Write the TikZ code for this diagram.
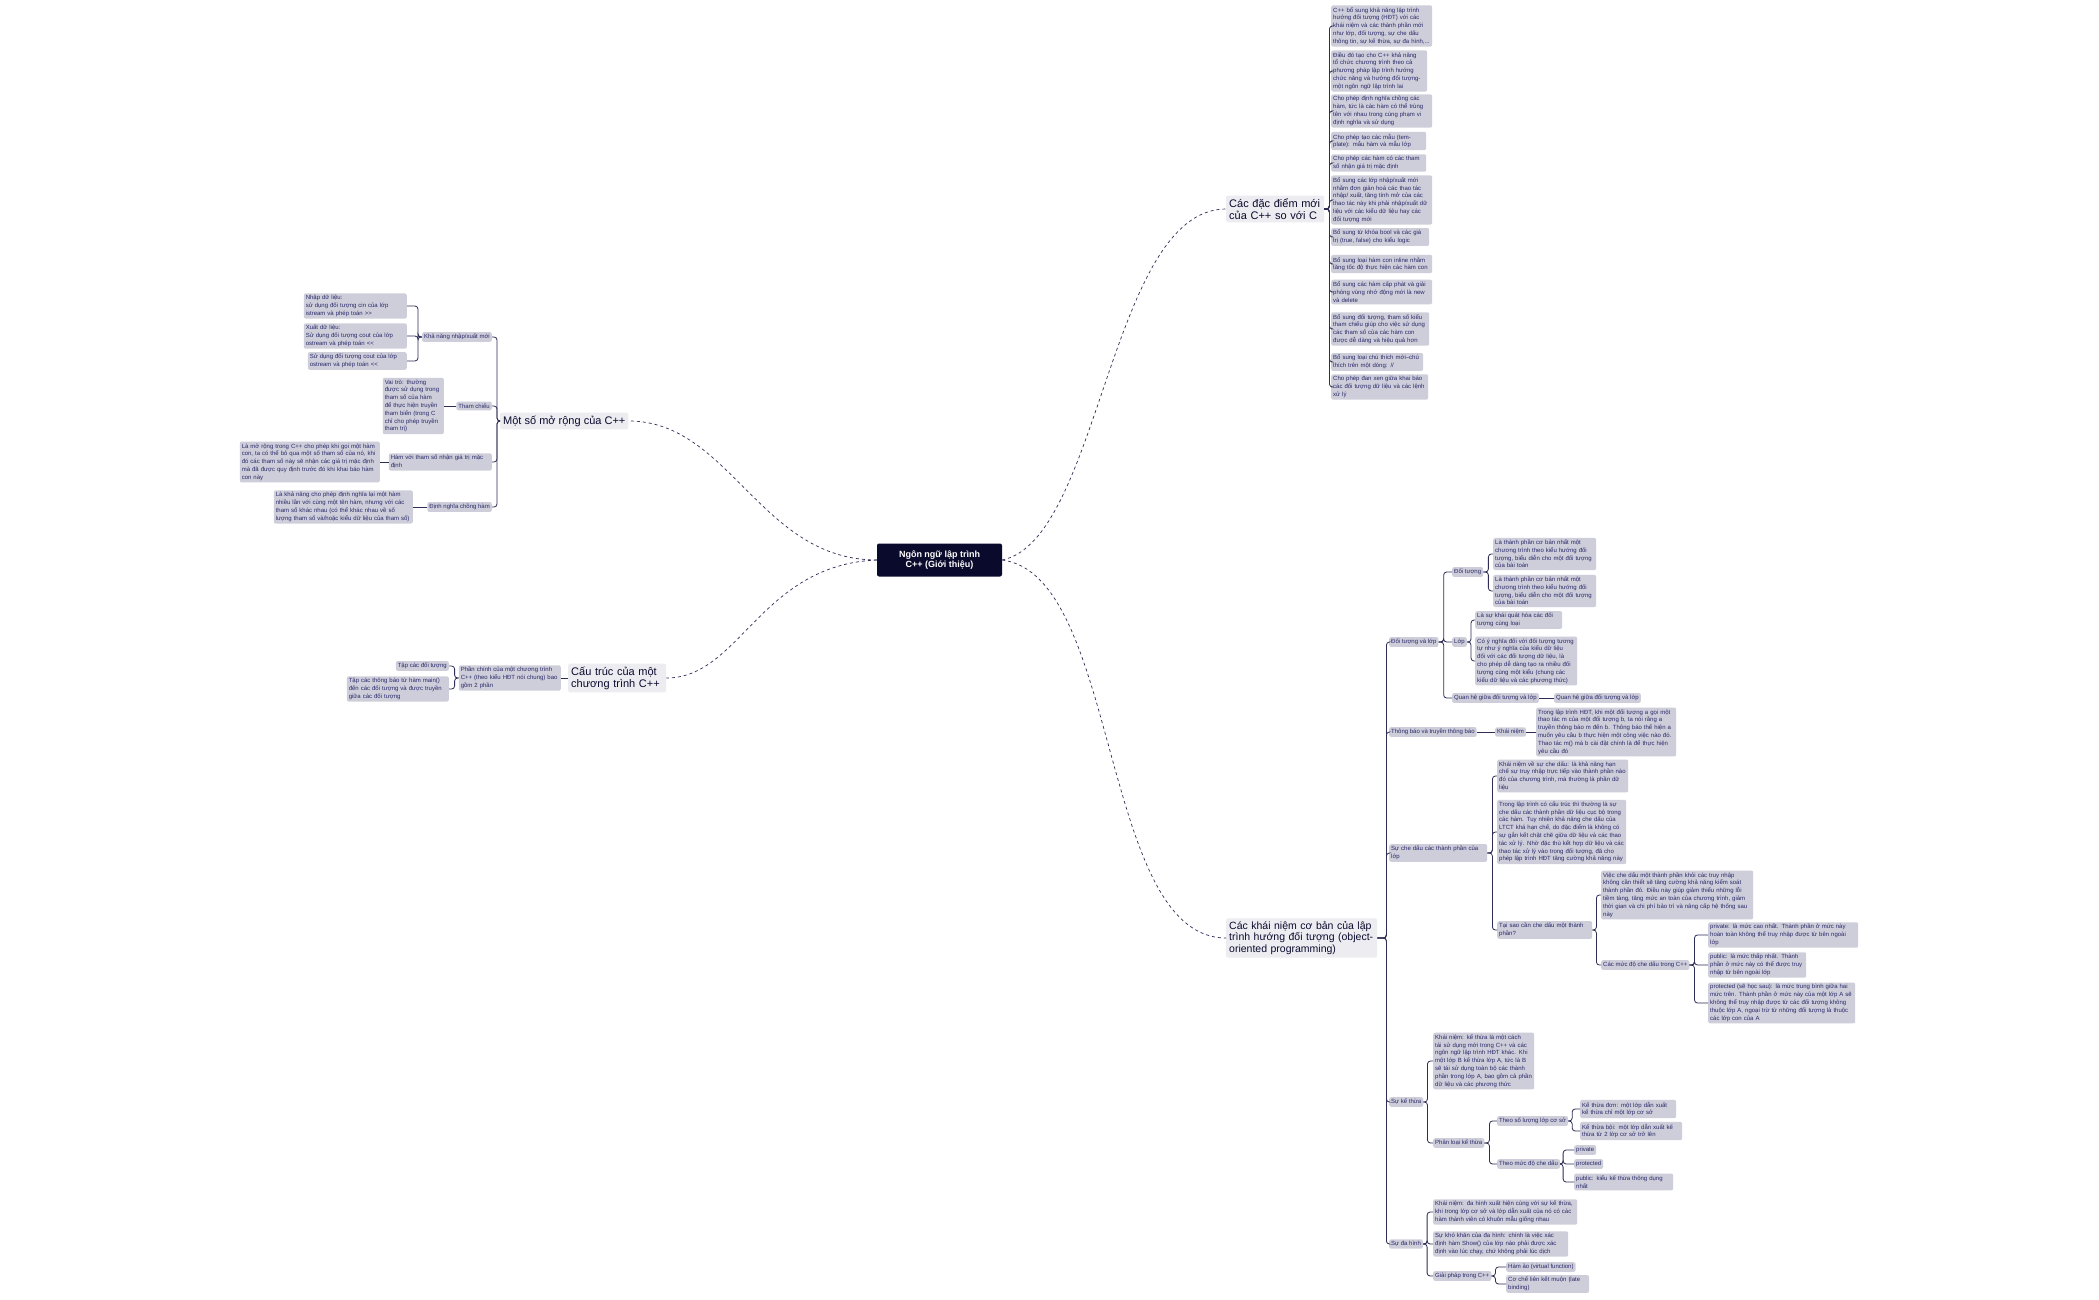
\documentclass[tikz,border=0pt]{standalone}
\usepackage{fontspec}
\setmainfont{Liberation Sans}
\definecolor{leafc}{RGB}{206,206,218}
\definecolor{txtc}{RGB}{40,40,105}
\definecolor{brc}{RGB}{236,236,241}
\definecolor{rootc}{RGB}{10,10,45}
\definecolor{linec}{RGB}{45,45,85}
\tikzset{
 leaf/.style={fill=leafc, rounded corners=2pt, inner sep=2pt, font=\fontsize{6}{7.8}\selectfont, text=txtc, align=left},
 br/.style={fill=brc, rounded corners=2pt, inner sep=3pt, font=\fontsize{11}{12}\selectfont, text=rootc, align=left},
 conn/.style={draw=linec, line width=0.8pt, rounded corners=3pt},
 curve/.style={draw=linec, line width=0.7pt, dashed},
}
\begin{document}
\begin{tikzpicture}[x=1pt,y=-1pt]
\useasboundingbox[fill=white] (0,0) rectangle (2099,1300);
% root
\node[fill=rootc, rounded corners=2pt, text=white, font=\bfseries\fontsize{9}{10}\selectfont, align=center, minimum width=125pt, minimum height=33pt] (root) at (939.5,560) {Ngôn ngữ lập trình\\C++ (Giới thiệu)};
% branches
\node[br, anchor=west, text width=92pt] (B1) at (1226,209) {Các đặc điểm mới của C++ so với C};
\node[br, anchor=west] (B2) at (500,421) {Một số mở rộng của C++};
\node[br, anchor=west, text width=92pt] (B3) at (568,678) {Cấu trúc của một chương trình C++};
\node[br, anchor=west, text width=145pt, font=\fontsize{10.5}{11.5}\selectfont] (B4) at (1226,938) {Các khái niệm cơ bản của lập trình hướng đối tượng (object-oriented programming)};
\draw[curve] (root.east) .. controls (1100,540) and (1110,209) .. (B1.west);
\draw[curve] (root.west) .. controls (760,560) and (730,421) .. (B2.east);
\draw[curve] (root.west) .. controls (760,565) and (740,678) .. (B3.east);
\draw[curve] (root.east) .. controls (1120,575) and (1100,938) .. (B4.west);
% branch 1 children
\begin{scope}[every node/.style={leaf, anchor=west}]
\node[text width=97pt] (a1) at (1331,26) {C++ bổ sung khả năng lập trình hướng đối tượng (HĐT) với các khái niệm và các thành phần mới như lớp, đối tượng, sự che dấu thông tin, sự kế thừa, sự đa hình,...};
\node[text width=92pt] (a2) at (1331,71) {Điều đó tạo cho C++ khả năng tổ chức chương trình theo cả phương pháp lập trình hướng chức năng và hướng đối tượng- một ngôn ngữ lập trình lai};
\node[text width=97pt] (a3) at (1331,111) {Cho phép định nghĩa chồng các hàm, tức là các hàm có thể trùng tên với nhau trong cùng phạm vi định nghĩa và sử dụng};
\node[text width=91pt] (a4) at (1331,141) {Cho phép tạo các mẫu (template): mẫu hàm và mẫu lớp};
\node[text width=91pt] (a5) at (1331,163) {Cho phép các hàm có các tham số nhận giá trị mặc định};
\node[text width=97pt] (a6) at (1331,200) {Bổ sung các lớp nhập/xuất mới nhằm đơn giản hoá các thao tác nhập/ xuất, tăng tính mở của các thao tác này khi phải nhập/xuất dữ liệu với các kiểu dữ liệu hay các đối tượng mới};
\node[text width=94pt] (a7) at (1331,237) {Bổ sung từ khóa bool và các giá trị (true, false) cho kiểu logic};
\node[text width=97pt] (a8) at (1331,264) {Bổ sung loại hàm con inline nhằm tăng tốc độ thực hiện các hàm con};
\node[text width=97pt] (a9) at (1331,292) {Bổ sung các hàm cấp phát và giải phóng vùng nhớ động mới là new và delete};
\node[text width=94pt] (a10) at (1331,329) {Bổ sung đối tượng, tham số kiểu tham chiếu giúp cho việc sử dụng các tham số của các hàm con được dễ dàng và hiệu quả hơn};
\node[text width=88pt] (a11) at (1331,362) {Bổ sung loại chú thích mới–chú thích trên một dòng: //};
\node[text width=93pt] (a12) at (1331,387) {Cho phép đan xen giữa khai báo các đối tượng dữ liệu và các lệnh xử lý};
\end{scope}
\foreach \c in {a1,a2,a3,a4,a5,a6,a7,a8,a9,a10,a11,a12}
  \draw[conn] (B1.east) -- ++(5,0) |- (\c.west);
% branch 2
\begin{scope}[every node/.style={leaf, anchor=east}]
\node (b1) at (492,337) {Khả năng nhập/xuất mới};
\node (b2) at (492,406) {Tham chiếu};
\node[text width=99pt] (b3) at (492,462) {Hàm với tham số nhận giá trị mặc định};
\node (b4) at (492,507) {Định nghĩa chồng hàm};
\node[text width=99pt] (b11) at (407,306) {Nhập dữ liệu:\\sử dụng đối tượng cin của lớp istream và phép toán >{}>};
\node[text width=99pt] (b12) at (407,336) {Xuất dữ liệu:\\Sử dụng đối tượng cout của lớp ostream và phép toán <{}<};
\node[text width=95pt] (b13) at (407,361) {Sử dụng đối tượng cout của lớp ostream và phép toán <{}<};
\node[text width=57pt] (b21) at (444,406) {Vai trò: thường được sử dụng trong tham số của hàm để thực hiện truyền tham biến (trong C chỉ cho phép truyền tham trị)};
\node[text width=136pt] (b31) at (380,462) {Là mở rộng trong C++ cho phép khi gọi một hàm con, ta có thể bỏ qua một số tham số của nó, khi đó các tham số này sẽ nhận các giá trị mặc định mà đã được quy định trước đó khi khai báo hàm con này};
\node[text width=135pt] (b41) at (413,507) {Là khả năng cho phép định nghĩa lại một hàm nhiều lần với cùng một tên hàm, nhưng với các tham số khác nhau (có thể khác nhau về số lượng tham số và/hoặc kiểu dữ liệu của tham số)};
\end{scope}
\foreach \c in {b1,b2,b3,b4} \draw[conn] (B2.west) -- ++(-3,0) |- (\c.east);
\foreach \c in {b11,b12,b13} \draw[conn] (b1.west) -- ++(-4,0) |- (\c.east);
\draw[conn] (b2.west) -- (b21.east);
\draw[conn] (b3.west) -- (b31.east);
\draw[conn] (b4.west) -- (b41.east);
% branch 3
\begin{scope}[every node/.style={leaf}]
\node[anchor=east, text width=98pt] (c1) at (561,678) {Phần chính của một chương trình C++ (theo kiểu HĐT nói chung) bao gồm 2 phần};
\node[anchor=east] (c11) at (449,666) {Tập các đối tượng};
\node[anchor=east, text width=98pt] (c12) at (449,689) {Tập các thông báo từ hàm main() đến các đối tượng và được truyền giữa các đối tượng};
\end{scope}
\draw[conn] (B3.west) -- (c1.east);
\foreach \c in {c11,c12} \draw[conn] (c1.west) -- ++(-4,0) |- (\c.east);
% branch 4
\begin{scope}[every node/.style={leaf, anchor=west}]
\node (d1) at (1389,642) {Đối tượng và lớp};
\node (d11) at (1452,572) {Đối tượng};
\node[text width=99pt] (d111) at (1493,554) {Là thành phần cơ bản nhất một chương trình theo kiểu hướng đối tượng, biểu diễn cho một đối tượng của bài toán};
\node[text width=99pt] (d112) at (1493,591) {Là thành phần cơ bản nhất một chương trình theo kiểu hướng đối tượng, biểu diễn cho một đối tượng của bài toán};
\node (d12) at (1452,642) {Lớp};
\node[text width=83pt] (d121) at (1475,620) {Là sự khái quát hóa các đối tượng cùng loại};
\node[text width=98pt] (d122) at (1475,661) {Có ý nghĩa đối với đối tượng tương tự như ý nghĩa của kiểu dữ liệu đối với các đối tượng dữ liệu, là cho phép dễ dàng tạo ra nhiều đối tượng cùng một kiểu (chung các kiểu dữ liệu và các phương thức)};
\node (d13) at (1452,698) {Quan hệ giữa đối tượng và lớp};
\node (d131) at (1554,698) {Quan hệ giữa đối tượng và lớp};
\node (d2) at (1389,732) {Thông báo và truyền thông báo};
\node (d21) at (1495,732) {Khái niệm};
\node[text width=136pt] (d211) at (1536,732) {Trong lập trình HĐT, khi một đối tượng a gọi một thao tác m của một đối tượng b, ta nói rằng a truyền thông báo m đến b. Thông báo thể hiện a muốn yêu cầu b thực hiện một công việc nào đó. Thao tác m() mà b cài đặt chính là để thực hiện yêu cầu đó};
\node[text width=94pt] (d3) at (1389,853) {Sự che dấu các thành phần của lớp};
\node[text width=127pt] (d31) at (1497,776) {Khái niệm về sự che dấu: là khả năng hạn chế sự truy nhập trực tiếp vào thành phần nào đó của chương trình, mà thường là phần dữ liệu};
\node[text width=125pt] (d32) at (1497,832) {Trong lập trình có cấu trúc thì thường là sự che dấu các thành phần dữ liệu cục bộ trong các hàm. Tuy nhiên khả năng che dấu của LTCT khá hạn chế, do đặc điểm là không có sự gắn kết chặt chẽ giữa dữ liệu và các thao tác xử lý. Nhờ đặc thù kết hợp dữ liệu và các thao tác xử lý vào trong đối tượng, đã cho phép lập trình HĐT tăng cường khả năng này};
\node[text width=91pt] (d33) at (1497,930) {Tại sao cần che dấu một thành phần?};
\node[text width=148pt] (d331) at (1601,895) {Việc che dấu một thành phần khỏi các truy nhập không cần thiết sẽ tăng cường khả năng kiểm soát thành phần đó. Điều này giúp giảm thiểu những lỗi tiềm tàng, tăng mức an toàn của chương trình, giảm thời gian và chi phí bảo trì và nâng cấp hệ thống sau này};
\node (d332) at (1601,965) {Các mức độ che dấu trong C++};
\node[text width=146pt] (d3321) at (1708,935) {private: là mức cao nhất. Thành phần ở mức này hoàn toàn không thể truy nhập được từ bên ngoài lớp};
\node[text width=94pt] (d3322) at (1708,965) {public: là mức thấp nhất. Thành phần ở mức này có thể được truy nhập từ bên ngoài lớp};
\node[text width=143pt] (d3323) at (1708,1003) {protected (sẽ học sau): là mức trung bình giữa hai mức trên. Thành phần ở mức này của một lớp A sẽ không thể truy nhập được từ các đối tượng không thuộc lớp A, ngoại trừ từ những đối tượng là thuộc các lớp con của A};
\node (d4) at (1389,1102) {Sự kế thừa};
\node[text width=97pt] (d41) at (1433,1061) {Khái niệm: kế thừa là một cách tái sử dụng mới trong C++ và các ngôn ngữ lập trình HĐT khác. Khi một lớp B kế thừa lớp A, tức là B sẽ tái sử dụng toàn bộ các thành phần trong lớp A, bao gồm cả phần dữ liệu và các phương thức};
\node (d42) at (1433,1143) {Phân loại kế thừa};
\node (d421) at (1497,1121) {Theo số lượng lớp cơ sở};
\node[text width=92pt] (d4211) at (1580,1109) {Kế thừa đơn: một lớp dẫn xuất kế thừa chỉ một lớp cơ sở};
\node[text width=98pt] (d4212) at (1580,1131) {Kế thừa bội: một lớp dẫn xuất kế thừa từ 2 lớp cơ sở trở lên};
\node (d422) at (1497,1164) {Theo mức độ che dấu};
\node (d4221) at (1574,1150) {private};
\node (d4222) at (1574,1164) {protected};
\node[text width=95pt] (d4223) at (1574,1182) {public: kiểu kế thừa thông dụng nhất};
\node (d5) at (1389,1244) {Sự đa hình};
\node[text width=140pt] (d51) at (1433,1212) {Khái niệm: đa hình xuất hiện cùng với sự kế thừa, khi trong lớp cơ sở và lớp dẫn xuất của nó có các hàm thành viên có khuôn mẫu giống nhau};
\node[text width=131pt] (d52) at (1433,1244) {Sự khó khăn của đa hình: chính là việc xác định hàm Show() của lớp nào phải được xác định vào lúc chạy, chứ không phải lúc dịch};
\node (d53) at (1433,1276) {Giải pháp trong C++};
\node (d531) at (1506,1267) {Hàm ảo (virtual function)};
\node[text width=79pt] (d532) at (1506,1284) {Cơ chế liên kết muộn (late binding)};
\end{scope}
\foreach \c in {d1,d2,d3,d4,d5} \draw[conn] (B4.east) -- ++(9,0) |- (\c.west);
\foreach \c in {d11,d12,d13} \draw[conn] (d1.east) -- ++(5,0) |- (\c.west);
\foreach \c in {d111,d112} \draw[conn] (d11.east) -- ++(5,0) |- (\c.west);
\foreach \c in {d121,d122} \draw[conn] (d12.east) -- ++(4,0) |- (\c.west);
\draw[conn] (d13.east) -- (d131.west);
\draw[conn] (d2.east) -- (d21.west);
\draw[conn] (d21.east) -- (d211.west);
\foreach \c in {d31,d32,d33} \draw[conn] (d3.east) -- ++(5,0) |- (\c.west);
\foreach \c in {d331,d332} \draw[conn] (d33.east) -- ++(4,0) |- (\c.west);
\foreach \c in {d3321,d3322,d3323} \draw[conn] (d332.east) -- ++(5,0) |- (\c.west);
\foreach \c in {d41,d42} \draw[conn] (d4.east) -- ++(4,0) |- (\c.west);
\foreach \c in {d421,d422} \draw[conn] (d42.east) -- ++(5,0) |- (\c.west);
\foreach \c in {d4211,d4212} \draw[conn] (d421.east) -- ++(4,0) |- (\c.west);
\foreach \c in {d4221,d4222,d4223} \draw[conn] (d422.east) -- ++(3,0) |- (\c.west);
\foreach \c in {d51,d52,d53} \draw[conn] (d5.east) -- ++(4,0) |- (\c.west);
\foreach \c in {d531,d532} \draw[conn] (d53.east) -- ++(4,0) |- (\c.west);
\end{tikzpicture}
\end{document}
